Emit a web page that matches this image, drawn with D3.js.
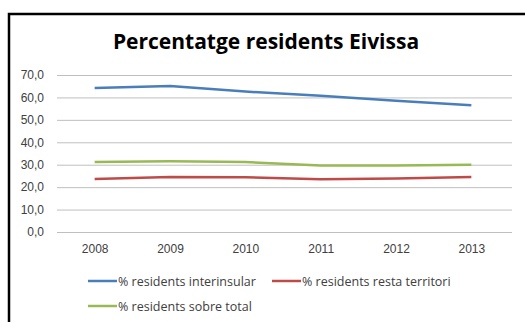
<!DOCTYPE html>
<html>
<head>
<meta charset="utf-8">
<script src="https://cdn.jsdelivr.net/npm/d3@7"></script>
<style>
  html, body { margin: 0; padding: 0; background: #fff; }
  svg { display: block; font-family: "Open Sans", "Liberation Sans", sans-serif; }
</style>
</head>
<body>
<svg id="chart" width="525" height="322"></svg>
<script>
// Years on the x axis
const years = ["2008", "2009", "2010", "2011", "2012", "2013"];
// Series values (%)
const interinsular = [64.2, 65.1, 62.6, 60.8, 58.5, 56.5];
const restaTerritori = [23.6, 24.5, 24.4, 23.5, 23.8, 24.5];
const sobreTotal = [31.2, 31.5, 31.2, 29.6, 29.6, 30.0];
// Y axis ticks
const yTicks = [0, 10, 20, 30, 40, 50, 60, 70];

const seriesNames = ["% residents interinsular", "% residents resta territori", "% residents sobre total"];
const seriesColors = ["#4A7EBB", "#BE4B48", "#98B954"];
const series = [interinsular, restaTerritori, sobreTotal];

const svg = d3.select("#chart");

// Chart frame
svg.append("rect")
  .attr("x", 9).attr("y", 14)
  .attr("width", 540).attr("height", 340)
  .attr("fill", "#fff")
  .attr("stroke", "#000").attr("stroke-width", 2.5);

// Title
svg.append("text")
  .attr("x", 266).attr("y", 49)
  .attr("text-anchor", "middle")
  .attr("font-size", 21).attr("font-weight", "bold")
  .attr("fill", "#000")
  .text("Percentatge residents Eivissa");

const plotLeft = 57, plotRight = 509, plotTop = 75, plotBottom = 232;

const x = d3.scalePoint().domain(years).range([plotLeft, plotRight]).padding(0.5);
const y = d3.scaleLinear().domain([0, 70]).range([plotBottom, plotTop]);

// Horizontal gridlines and y axis
const yAxis = d3.axisLeft(y).tickValues(yTicks)
  .tickSize(-(plotRight + 3 - plotLeft))
  .tickPadding(13)
  .tickFormat(d => d3.format(".1f")(d).replace(".", ","));

const gy = svg.append("g").attr("transform", `translate(${plotLeft},0)`).call(yAxis);
gy.select(".domain").remove();
gy.selectAll(".tick line").attr("stroke", "#bfbfbf").attr("stroke-width", 1);
gy.selectAll(".tick text").attr("fill", "#404040").attr("font-size", 12);

// X axis labels
const xAxis = d3.axisBottom(x).tickSize(0).tickPadding(12);
const gx = svg.append("g").attr("transform", `translate(0,${plotBottom})`).call(xAxis);
gx.select(".domain").remove();
gx.selectAll(".tick text").attr("fill", "#404040").attr("font-size", 12);

// Lines
const line = d3.line().x((d, i) => x(years[i])).y(d => y(d));
series.forEach((s, i) => {
  svg.append("path")
    .datum(s)
    .attr("fill", "none")
    .attr("stroke", seriesColors[i])
    .attr("stroke-width", 2.5)
    .attr("stroke-linejoin", "round")
    .attr("d", line);
});

// Legend
const legendPos = [[88, 281], [272, 281], [88, 306]];
seriesNames.forEach((name, i) => {
  const [lx, ly] = legendPos[i];
  const g = svg.append("g").attr("transform", `translate(${lx},${ly})`);
  g.append("line").attr("x1", 0).attr("x2", 29).attr("y1", 0).attr("y2", 0)
    .attr("stroke", seriesColors[i]).attr("stroke-width", 2.5);
  g.append("text").attr("x", 30).attr("y", 4.5)
    .attr("font-size", 12.5).attr("fill", "#404040")
    .text(name);
});
</script>
</body>
</html>
